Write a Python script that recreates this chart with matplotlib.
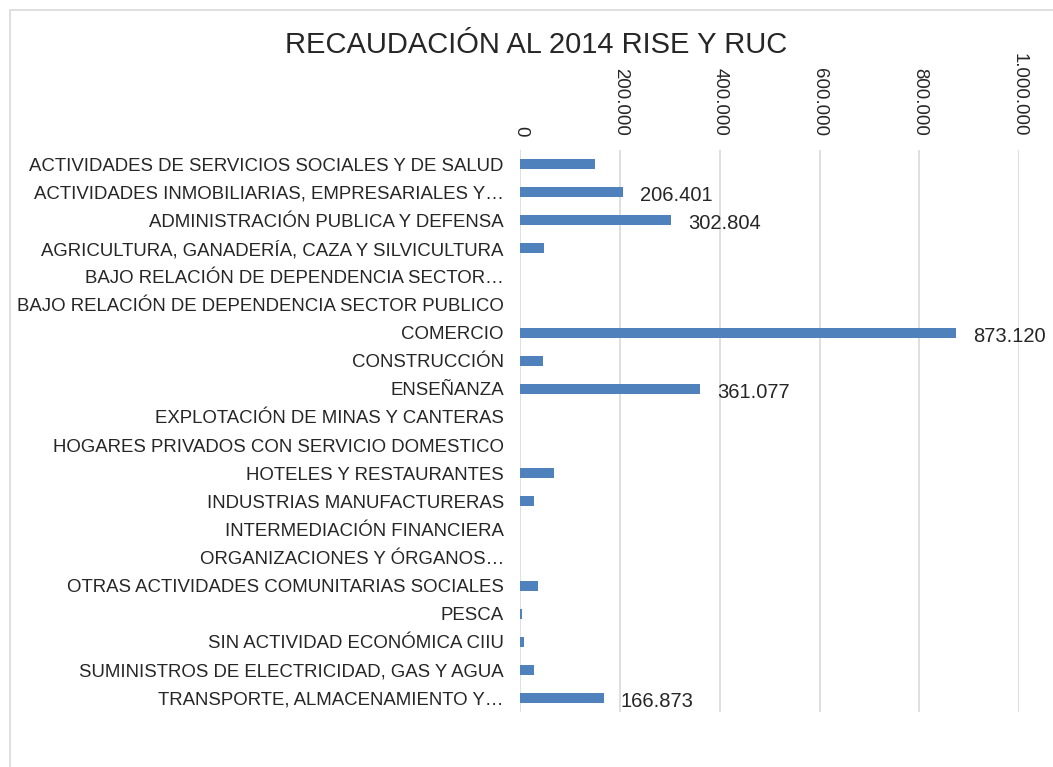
import matplotlib as mpl
mpl.use('Agg')
import matplotlib.pyplot as plt
from matplotlib.patches import Rectangle
from matplotlib.ticker import FuncFormatter

plt.rcParams['font.family'] = ['Liberation Sans', 'DejaVu Sans']

categorias = [
    'ACTIVIDADES DE SERVICIOS SOCIALES Y DE SALUD',
    'ACTIVIDADES INMOBILIARIAS, EMPRESARIALES Y…',
    'ADMINISTRACIÓN PUBLICA Y DEFENSA',
    'AGRICULTURA, GANADERÍA, CAZA Y SILVICULTURA',
    'BAJO RELACIÓN DE DEPENDENCIA SECTOR…',
    'BAJO RELACIÓN DE DEPENDENCIA SECTOR PUBLICO',
    'COMERCIO',
    'CONSTRUCCIÓN',
    'ENSEÑANZA',
    'EXPLOTACIÓN DE MINAS Y CANTERAS',
    'HOGARES PRIVADOS CON SERVICIO DOMESTICO',
    'HOTELES Y RESTAURANTES',
    'INDUSTRIAS MANUFACTURERAS',
    'INTERMEDIACIÓN FINANCIERA',
    'ORGANIZACIONES Y ÓRGANOS…',
    'OTRAS ACTIVIDADES COMUNITARIAS SOCIALES',
    'PESCA',
    'SIN ACTIVIDAD ECONÓMICA CIIU',
    'SUMINISTROS DE ELECTRICIDAD, GAS Y AGUA',
    'TRANSPORTE, ALMACENAMIENTO Y…',
]
valores = [149000, 206401, 302804, 46500, 0, 0, 873120, 44500, 361077, 0,
           0, 67000, 26500, 0, 0, 34500, 3600, 6400, 26500, 166873]
etiquetados = [1, 2, 6, 8, 19]

def miles(v, pos=None):
    return '{:,.0f}'.format(v).replace(',', '.')

fig = plt.figure(figsize=(10.53, 7.67), dpi=100)
fig.patches.append(Rectangle((10 / 1053, -0.01), 1.05, 1 - 10 / 767 + 0.01,
                             transform=fig.transFigure, fill=False,
                             edgecolor='#D9D9D9', lw=1.2))
ax = fig.add_axes([0.4943, 0.0717, 0.4734, 0.7327])

y = list(range(len(categorias)))
ax.barh(y, valores, height=0.36, color='#4F81BD', zorder=3)
for i in etiquetados:
    ax.text(valores[i] + 34000, i + 0.12, miles(valores[i]), va='center',
            ha='left', fontsize=14.5, color='#262626')

ax.set_ylim(len(categorias) - 0.5, -0.5)
ax.set_yticks(y)
ax.set_yticklabels(categorias, fontsize=13.4, color='#262626')
ax.set_xlim(0, 1000000)
ax.set_xticks(range(0, 1000001, 200000))
ax.xaxis.set_major_formatter(FuncFormatter(miles))
ax.xaxis.tick_top()
for lbl in ax.get_xticklabels():
    lbl.set_rotation(-90)
    lbl.set_fontsize(13.4)
    lbl.set_color('#262626')
    lbl.set_va('bottom')
ax.tick_params(length=0, pad=10)
ax.tick_params(axis='y', pad=12)
ax.grid(axis='x', color='#D9D9D9', lw=1.2, zorder=0)
for s in ax.spines.values():
    s.set_visible(False)

fig.text(0.509, 0.941, 'RECAUDACIÓN AL 2014 RISE Y RUC', ha='center',
         va='center', fontsize=21, color='#262626')

fig.savefig('out.png', dpi=100)
